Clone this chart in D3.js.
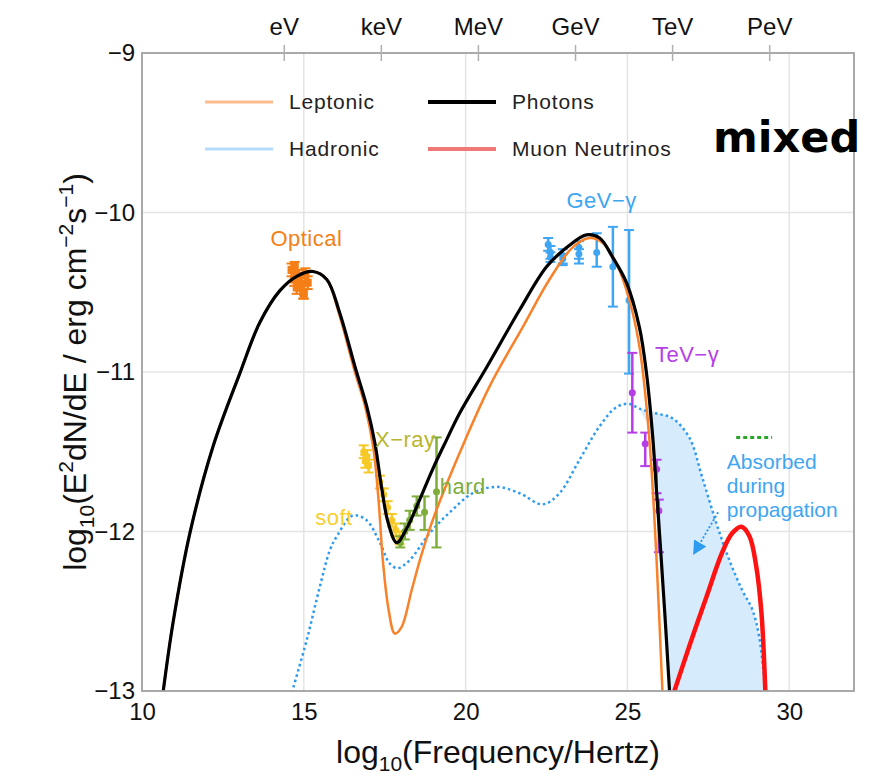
<!DOCTYPE html>
<html>
<head>
<meta charset="utf-8">
<script src="https://cdn.jsdelivr.net/npm/d3@7"></script>
<style>
  body { margin: 0; background: #fff; }
  svg { font-family: "Liberation Sans", Arial, sans-serif; }
</style>
</head>
<body>
<svg id="chart" width="881" height="778"></svg>
<script>
// ---- data (log10 frequency in Hz, log10 E^2 dN/dE) ----
var photonX = [10.65,10.96,11.48,12.19,13.02,13.64,14.26,14.78,15.28,15.71,16.11,16.6,16.95,17.2,17.4,17.6,17.87,18.18,18.58,18.98,19.4,19.81,20.65,21.67,22.50,23.12,23.73,24.14,24.54,24.97,25.37,25.59,25.77,25.90,26.02,26.15,26.30];
var photonY = [-13.01,-12.57,-12.01,-11.47,-11.01,-10.69,-10.49,-10.40,-10.37,-10.42,-10.63,-10.98,-11.22,-11.45,-11.72,-11.94,-12.07,-11.98,-11.80,-11.61,-11.43,-11.26,-10.97,-10.61,-10.34,-10.22,-10.14,-10.16,-10.28,-10.44,-10.72,-11.01,-11.38,-11.75,-12.1,-12.5,-13.0];

var leptonicX = [10.65,10.96,11.48,12.19,13.02,13.64,14.26,14.78,15.28,15.71,16.08,16.55,16.9,17.15,17.3,17.45,17.62,17.81,18.02,18.33,18.60,18.98,19.81,20.74,21.76,22.59,23.30,23.83,24.23,24.66,25.06,25.37,25.59,25.74,25.90,26.08];
var leptonicY = [-13.01,-12.57,-12.01,-11.47,-11.01,-10.69,-10.49,-10.40,-10.37,-10.42,-10.63,-10.98,-11.22,-11.48,-11.78,-12.20,-12.49,-12.64,-12.60,-12.37,-12.17,-11.93,-11.51,-11.09,-10.72,-10.42,-10.22,-10.16,-10.19,-10.32,-10.55,-10.84,-11.22,-11.60,-12.18,-13.0];

var hadronicX = [14.63,15.09,15.49,15.80,16.02,16.51,16.94,17.35,17.65,17.90,18.27,18.89,19.51,20.22,20.96,21.67,22.38,22.90,23.52,24.14,24.66,25.06,25.37,25.9,26.39,26.91,27.31,27.75,28.15,28.55,28.86,29.07,29.26];
var hadronicY = [-13.01,-12.68,-12.35,-12.12,-12.03,-11.90,-11.93,-12.07,-12.20,-12.23,-12.18,-12.01,-11.88,-11.76,-11.72,-11.76,-11.83,-11.76,-11.55,-11.34,-11.22,-11.20,-11.23,-11.26,-11.29,-11.41,-11.66,-11.95,-12.18,-12.37,-12.49,-12.66,-13.0];

var neutrinoX = [26.45,26.91,27.44,27.93,28.24,28.52,28.77,28.98,29.14,29.26];
var neutrinoY = [-13.0,-12.72,-12.41,-12.13,-12.01,-11.97,-12.03,-12.22,-12.51,-13.0];

// green dashed limit
var limitX = [28.36, 29.47];
var limitY = [-11.41, -11.41];

// data points: [x, y, low, high]
var opticalPts = [[14.62,-10.36,-10.40,-10.32],[14.70,-10.42,-10.46,-10.38],[14.78,-10.47,-10.51,-10.43],[14.85,-10.40,-10.44,-10.36],[14.92,-10.45,-10.49,-10.41],[14.98,-10.50,-10.54,-10.46],[15.05,-10.39,-10.43,-10.35],[15.12,-10.44,-10.48,-10.40],[14.72,-10.34,-10.37,-10.31],[15.0,-10.51,-10.54,-10.48]];
var softPts = [[16.85,-11.50,-11.54,-11.46],[16.90,-11.56,-11.60,-11.52],[16.95,-11.53,-11.57,-11.49],[17.00,-11.59,-11.63,-11.55],[17.35,-11.69,-11.73,-11.65],[17.47,-11.77,-11.81,-11.73],[17.59,-11.85,-11.89,-11.81],[17.72,-11.93,-11.97,-11.89],[17.84,-11.99,-12.03,-11.95],[17.96,-12.04,-12.08,-12.00]];
var hardPts = [[17.98,-12.07,-12.10,-12.03],[18.12,-12.00,-12.05,-11.95],[18.27,-11.93,-11.99,-11.87],[18.49,-11.84,-11.90,-11.78],[18.73,-11.88,-11.99,-11.78],[19.10,-11.75,-12.10,-11.41]];
var gevPts = [[22.55,-10.20,-10.24,-10.16],[22.62,-10.25,-10.29,-10.21],[22.62,-10.28,-10.31,-10.25],[23.0,-10.27,-10.33,-10.23],[23.0,-10.29,-10.32,-10.26],[23.5,-10.22,-10.32,-10.18],[23.5,-10.26,-10.29,-10.23],[24.05,-10.25,-10.34,-10.13],[24.55,-10.34,-10.59,-10.09],[25.05,-10.55,-11.01,-10.11]];
var tevPts = [[25.15,-11.13,-11.38,-10.88],[25.55,-11.45,-11.59,-11.38],[25.9,-11.61,-11.76,-11.55],[25.97,-11.87,-12.13,-11.80]];

// axis ticks
var freqTicks = [10, 15, 20, 25, 30];
var fluxTicks = [-9, -10, -11, -12, -13];
var energyTicks = [14.38, 17.38, 20.38, 23.38, 26.38, 29.38];
var energyLabels = ["eV", "keV", "MeV", "GeV", "TeV", "PeV"];

var legendNames = ["Leptonic", "Photons", "Hadronic", "Muon Neutrinos"];

// ---- layout ----
var margin = {top: 53, right: 27, bottom: 87, left: 142},
    width = 881 - margin.left - margin.right,
    height = 778 - margin.top - margin.bottom;

var svg = d3.select("#chart");
var g = svg.append("g").attr("transform", "translate(" + margin.left + "," + margin.top + ")");

var x = d3.scaleLinear().domain([10, 32]).range([0, width]);
var y = d3.scaleLinear().domain([-13, -9]).range([height, 0]);

g.append("clipPath").attr("id", "clip")
  .append("rect").attr("width", width).attr("height", height);

// grid
g.selectAll(".vgrid").data([15, 20, 25, 30]).enter().append("line")
  .attr("x1", d => x(d)).attr("x2", d => x(d))
  .attr("y1", 0).attr("y2", height)
  .attr("stroke", "#e4e4e4").attr("stroke-width", 1.5);
g.selectAll(".hgrid").data([-10, -11, -12]).enter().append("line")
  .attr("y1", d => y(d)).attr("y2", d => y(d))
  .attr("x1", 0).attr("x2", width)
  .attr("stroke", "#e4e4e4").attr("stroke-width", 1.5);

function pts(xs, ys) { return xs.map((v, i) => [v, ys[i]]); }

var line = d3.line()
  .x(d => x(d[0])).y(d => y(d[1]))
  .curve(d3.curveCatmullRom.alpha(0.5));

var plot = g.append("g").attr("clip-path", "url(#clip)");

// absorbed region: under hadronic curve, right of the photon curve
var hadPts = pts(hadronicX, hadronicY);
var phoPts = pts(photonX, photonY);
var topEdge = hadPts.filter(d => d[0] >= 25.37);
var leftEdge = phoPts.filter(d => d[0] >= 25.77).reverse();
plot.append("path")
  .attr("d", line(topEdge) + "L" + line(leftEdge).slice(1) + "Z")
  .attr("fill", "#d6ebfb");

// hadronic
plot.append("path").datum(hadPts)
  .attr("fill", "none").attr("stroke", "#2d9bf0")
  .attr("stroke-width", 2.5).attr("stroke-dasharray", "2.5,3")
  .attr("d", line);

// error bar sets
function errorBars(data, color, square) {
  var s = plot.append("g");
  data.forEach(function(d) {
    s.append("line").attr("x1", x(d[0])).attr("x2", x(d[0]))
      .attr("y1", y(d[2])).attr("y2", y(d[3]))
      .attr("stroke", color).attr("stroke-width", 2.5);
    [d[2], d[3]].forEach(function(v) {
      s.append("line").attr("x1", x(d[0]) - 5).attr("x2", x(d[0]) + 5)
        .attr("y1", y(v)).attr("y2", y(v))
        .attr("stroke", color).attr("stroke-width", 2);
    });
    if (square) {
      s.append("rect").attr("x", x(d[0]) - 4).attr("y", y(d[1]) - 4)
        .attr("width", 8).attr("height", 8).attr("fill", color);
    } else {
      s.append("circle").attr("cx", x(d[0])).attr("cy", y(d[1]))
        .attr("r", 3.5).attr("fill", color);
    }
  });
}
errorBars(opticalPts, "#f57f17", true);
errorBars(softPts, "#f7c928", false);
errorBars(hardPts, "#7fad3c", false);
errorBars(gevPts, "#3ea6f2", false);
errorBars(tevPts, "#b63ee8", false);

// leptonic, photons, neutrinos
plot.append("path").datum(pts(leptonicX, leptonicY))
  .attr("fill", "none").attr("stroke", "#f8812a").attr("stroke-width", 2.5)
  .attr("d", line);
plot.append("path").datum(phoPts)
  .attr("fill", "none").attr("stroke", "#000").attr("stroke-width", 3.2)
  .attr("d", line);
plot.append("path").datum(pts(neutrinoX, neutrinoY))
  .attr("fill", "none").attr("stroke", "#ff1212").attr("stroke-width", 4.5)
  .attr("d", line);

// green dashed limit
plot.append("path").datum(pts(limitX, limitY))
  .attr("fill", "none").attr("stroke", "#2aa52a").attr("stroke-width", 3)
  .attr("stroke-dasharray", "4,3")
  .attr("d", d3.line().x(d => x(d[0])).y(d => y(d[1])));

// frame
g.append("rect").attr("width", width).attr("height", height)
  .attr("fill", "none").attr("stroke", "#a0a0a0").attr("stroke-width", 1.8);

// axes
var leftAxis = g.append("g")
  .call(d3.axisLeft(y).tickValues(fluxTicks).tickFormat(d3.format("d"))
    .tickSize(0).tickPadding(7));
leftAxis.select(".domain").remove();
leftAxis.selectAll("text").attr("font-size", 24).attr("fill", "#111")
  .attr("font-family", "Liberation Sans, Arial, sans-serif");

var bottomAxis = g.append("g").attr("transform", "translate(0," + height + ")")
  .call(d3.axisBottom(x).tickValues(freqTicks).tickFormat(d3.format("d"))
    .tickSize(0).tickPadding(12));
bottomAxis.select(".domain").remove();
bottomAxis.selectAll("text").attr("font-size", 24).attr("fill", "#111")
  .attr("font-family", "Liberation Sans, Arial, sans-serif");

var topAxis = g.append("g").attr("transform", "translate(0,8)")
  .call(d3.axisTop(x).tickValues(energyTicks)
    .tickFormat((d, i) => energyLabels[i]).tickSize(16).tickPadding(10));
topAxis.select(".domain").remove();
topAxis.selectAll(".tick line").attr("stroke", "#b0b0b0").attr("stroke-width", 1.5);
topAxis.selectAll("text").attr("font-size", 24).attr("fill", "#111")
  .attr("font-family", "Liberation Sans, Arial, sans-serif");

// axis titles
var xt = svg.append("text").attr("x", margin.left + width / 2).attr("y", 763)
  .attr("text-anchor", "middle").attr("font-size", 32).attr("fill", "#111");
xt.append("tspan").text("log");
xt.append("tspan").attr("font-size", 21).attr("dy", 8).text("10");
xt.append("tspan").attr("dy", -8).text("(Frequency/Hertz)");

var yt = svg.append("text")
  .attr("transform", "translate(86," + (margin.top + height / 2) + ") rotate(-90)")
  .attr("text-anchor", "middle").attr("font-size", 32).attr("fill", "#111");
yt.append("tspan").text("log");
yt.append("tspan").attr("font-size", 21).attr("dy", 8).text("10");
yt.append("tspan").attr("dy", -8).text("(E");
yt.append("tspan").attr("font-size", 21).attr("dy", -13).text("2");
yt.append("tspan").attr("dy", 13).text("dN/dE / erg cm");
yt.append("tspan").attr("font-size", 21).attr("dy", -13).text("−2");
yt.append("tspan").attr("dy", 13).text("s");
yt.append("tspan").attr("font-size", 21).attr("dy", -13).text("−1");
yt.append("tspan").attr("dy", 13).text(")");

// legend
var legendItems = [
  {name: legendNames[0], color: "#fbbd8e", w: 3, lx: 205, ly: 102},
  {name: legendNames[1], color: "#000", w: 4, lx: 428, ly: 102},
  {name: legendNames[2], color: "#b4dcf8", w: 3, lx: 205, ly: 149},
  {name: legendNames[3], color: "#f27878", w: 4, lx: 428, ly: 149}
];
legendItems.forEach(function(d) {
  svg.append("line").attr("x1", d.lx).attr("x2", d.lx + 68)
    .attr("y1", d.ly).attr("y2", d.ly)
    .attr("stroke", d.color).attr("stroke-width", d.w);
  svg.append("text").attr("x", d.lx + 84).attr("y", d.ly + 7)
    .attr("font-size", 21).attr("letter-spacing", 0.8)
    .attr("fill", "#222").text(d.name);
});

// annotations
function note(tx, ty, txt, color, anchor) {
  return g.append("text").attr("x", x(tx)).attr("y", y(ty))
    .attr("font-size", 22).attr("letter-spacing", 0.5).attr("fill", color)
    .attr("text-anchor", anchor || "start").text(txt);
}
note(15.08, -10.21, "Optical", "#f57f17", "middle");
note(17.2, -11.47, "X−ray", "#b8b62e");
note(19.2, -11.765, "hard", "#7fad3c");
note(15.35, -11.96, "soft", "#f7d02e");
note(24.2, -9.97, "GeV−γ", "#3ea6f2", "middle");
note(25.85, -10.94, "TeV−γ", "#b63ee8");
var abs = g.append("text").attr("y", y(-11.61))
  .attr("font-size", 21).attr("fill", "#3ea6f2");
["Absorbed", "during", "propagation"].forEach(function(t, i) {
  abs.append("tspan").attr("x", x(28.07)).attr("dy", i ? 24 : 0).text(t);
});

// arrow
svg.append("defs").append("marker").attr("id", "arr")
  .attr("viewBox", "0 0 10 10").attr("refX", 9).attr("refY", 5)
  .attr("markerWidth", 7).attr("markerHeight", 7).attr("orient", "auto")
  .append("path").attr("d", "M0,0L10,5L0,10Z").attr("fill", "#2d9bf0");
g.append("line")
  .attr("x1", x(27.80)).attr("y1", y(-11.88))
  .attr("x2", x(27.05)).attr("y2", y(-12.14))
  .attr("stroke", "#2d9bf0").attr("stroke-width", 2)
  .attr("stroke-dasharray", "2,2").attr("marker-end", "url(#arr)");

// panel tag
svg.append("text").attr("x", 713).attr("y", 152)
  .attr("font-family", "DejaVu Sans, sans-serif").attr("font-weight", "bold")
  .attr("font-size", 43).attr("fill", "#000").text("mixed");
</script>
</body>
</html>
